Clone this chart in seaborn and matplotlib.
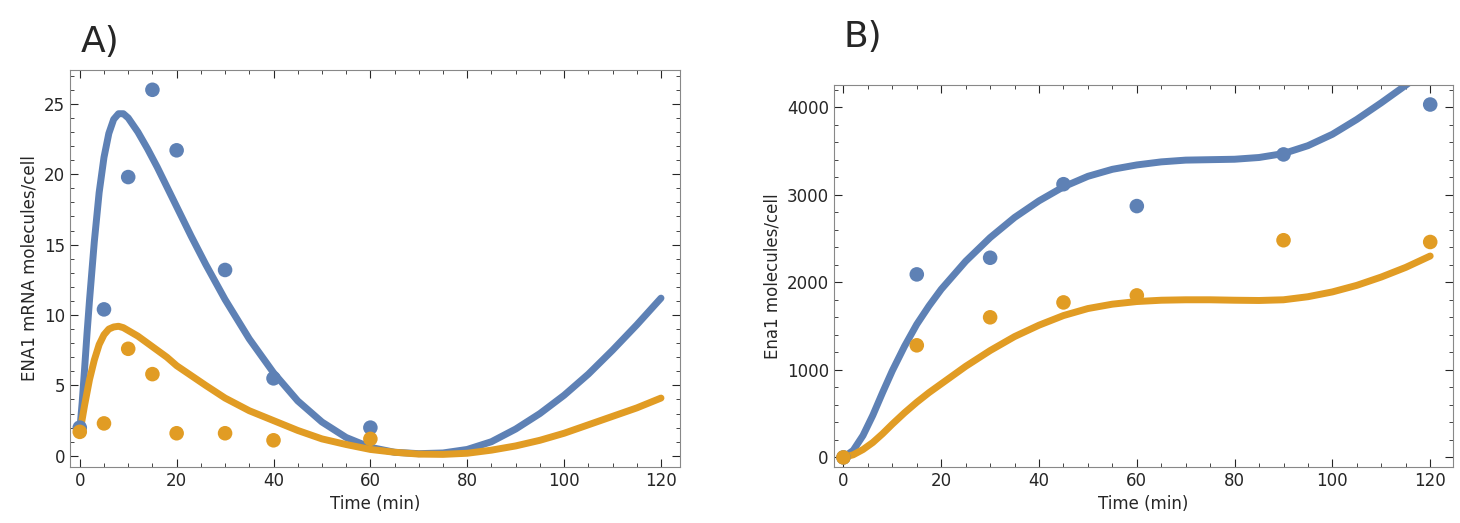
import numpy as np
import matplotlib
matplotlib.use('Agg')
import matplotlib.pyplot as plt
import seaborn as sns
from matplotlib.ticker import MultipleLocator

sns.set_style('ticks')
plt.rcParams['font.family'] = ['DejaVu Sans']

blue = '#5E81B5'
orange = '#E19C24'

# panel A: measured mRNA
a_t = [0, 5, 10, 15, 20, 30, 40, 60]
a_blue = [2.0, 10.4, 19.8, 26.0, 21.7, 13.2, 5.5, 2.0]
a_orange = [1.7, 2.3, 7.6, 5.8, 1.6, 1.6, 1.1, 1.2]
# panel A: model curves
a_ct = [0, 0.5, 1, 1.5, 2, 3, 4, 5, 6, 7, 8, 9, 10, 12, 14, 16, 18, 20, 23, 26, 30, 35, 40, 45, 50, 55, 60, 65, 70, 75,
        80, 85, 90, 95, 100, 105, 110, 115, 120]
a_cblue = [1.8, 3.8, 6.2, 8.7, 11.0, 15.2, 18.7, 21.2, 22.9, 23.9, 24.3, 24.3, 24.0, 23.0, 21.8, 20.5, 19.1, 17.7, 15.6, 13.6,
           11.1, 8.3, 5.9, 3.9, 2.4, 1.3, 0.6, 0.25, 0.15, 0.2, 0.45, 1.0, 1.9, 3.0, 4.3, 5.8, 7.5, 9.3, 11.2]
a_corange = [1.6, 2.6, 3.6, 4.5, 5.4, 6.8, 7.9, 8.6, 9.0, 9.15, 9.2, 9.1, 8.9, 8.5, 8.0, 7.5, 7.0, 6.4, 5.7, 5.0,
             4.1, 3.2, 2.5, 1.8, 1.2, 0.8, 0.45, 0.25, 0.12, 0.1, 0.18, 0.4, 0.7, 1.1, 1.6, 2.2, 2.8, 3.4, 4.1]

# panel B: measured protein
b_t = [0, 15, 30, 45, 60, 90, 120]
b_blue = [0, 2090, 2280, 3120, 2870, 3460, 4030]
b_orange = [0, 1280, 1600, 1770, 1850, 2480, 2460]
# panel B: model curves
b_ct = [0, 2, 4, 6, 8, 10, 12.5, 15, 17.5, 20, 25, 30, 35, 40, 45, 50, 55, 60, 65, 70, 75, 80, 85, 90, 95, 100, 105,
        110, 115, 120]
b_cblue = [0, 80, 250, 480, 740, 990, 1270, 1520, 1730, 1920, 2240, 2510, 2740, 2930, 3090, 3210, 3290, 3340, 3375,
           3395, 3400, 3405, 3425, 3470, 3560, 3690, 3860, 4050, 4250, 4460]
b_corange = [0, 30, 90, 170, 270, 380, 510, 630, 740, 840, 1040, 1220, 1380, 1510, 1620, 1700, 1750, 1780, 1795,
             1800, 1800, 1795, 1792, 1800, 1835, 1890, 1965, 2060, 2170, 2300]

fig = plt.figure(figsize=(14.6, 5.23), dpi=100)
axA = fig.add_axes([0.048, 0.107, 0.418, 0.759])
axB = fig.add_axes([0.571, 0.107, 0.424, 0.73])


def style(ax):
    ax.tick_params(direction='in', which='both', top=True, right=True, labelsize=12)
    ax.tick_params(which='major', length=6)
    ax.tick_params(which='minor', length=3)
    for s in ax.spines.values():
        s.set_color('#888888')
    ax.set_xlabel('Time (min)', fontsize=12)


kw = dict(lw=5, solid_capstyle='round', solid_joinstyle='round')
sns.lineplot(x=a_ct, y=a_cblue, ax=axA, color=blue, **kw)
sns.lineplot(x=a_ct, y=a_corange, ax=axA, color=orange, **kw)
sns.scatterplot(x=a_t, y=a_blue, ax=axA, color=blue, s=110, edgecolor='none', zorder=3)
sns.scatterplot(x=a_t, y=a_orange, ax=axA, color=orange, s=110, edgecolor='none', zorder=3)
axA.set_xlim(-2, 124)
axA.set_ylim(-0.8, 27.4)
axA.set_xticks(range(0, 121, 20))
axA.set_yticks(range(0, 26, 5))
axA.xaxis.set_minor_locator(MultipleLocator(5))
axA.yaxis.set_minor_locator(MultipleLocator(1))
axA.set_ylabel('ENA1 mRNA molecules/cell', fontsize=12)
style(axA)

sns.lineplot(x=b_ct, y=b_cblue, ax=axB, color=blue, **kw)
sns.lineplot(x=b_ct, y=b_corange, ax=axB, color=orange, **kw)
sns.scatterplot(x=b_t, y=b_blue, ax=axB, color=blue, s=110, edgecolor='none', zorder=3)
sns.scatterplot(x=b_t, y=b_orange, ax=axB, color=orange, s=110, edgecolor='none', zorder=3)
axB.set_xlim(-2, 124.6)
axB.set_ylim(-110, 4250)
axB.set_xticks(range(0, 121, 20))
axB.set_yticks(range(0, 4001, 1000))
axB.xaxis.set_minor_locator(MultipleLocator(5))
axB.yaxis.set_minor_locator(MultipleLocator(200))
axB.set_ylabel('Ena1 molecules/cell', fontsize=12)
style(axB)

fig.text(0.055, 0.92, 'A)', fontsize=26, va='center')
fig.text(0.578, 0.93, 'B)', fontsize=26, va='center')

fig.savefig('out.png', dpi=100)
